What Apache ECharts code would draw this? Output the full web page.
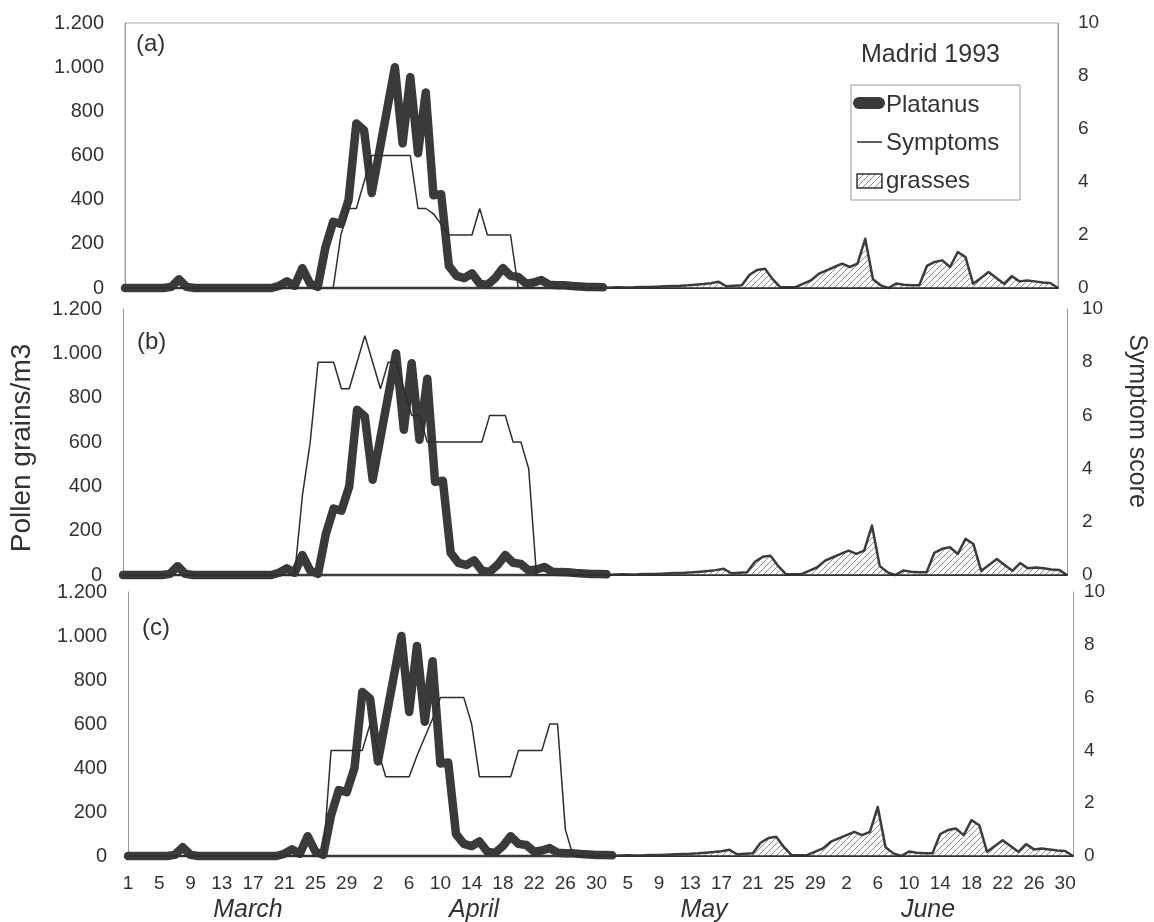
<!DOCTYPE html>
<html><head><meta charset="utf-8">
<script src="https://cdn.jsdelivr.net/npm/echarts@6/dist/echarts.min.js"></script>
<style>html,body{margin:0;padding:0;background:#fff}#chart{width:1154px;height:922px}</style>
</head><body><div id="chart"></div>
<script>
// ---------- data ----------
const monthLengths = [['Mar', 31], ['Apr', 30], ['May', 31], ['Jun', 30]];
const categories = [];
monthLengths.forEach(([m, n]) => { for (let d = 1; d <= n; d++) categories.push(m + ' ' + d); });

const tickLabels = ['1','5','9','13','17','21','25','29','2','6','10','14','18','22','26','30',
  '5','9','13','17','21','25','29','2','6','10','14','18','22','26','30'];
const monthNames = ['March', 'April', 'May', 'June'];

// Platanus pollen (grains/m3), Mar 1 onward
const platanus = [
  0,0,0,0,0,0,5,40,5,0,
  0,0,0,0,0,0,0,0,0,0,
  10,30,10,90,20,5,185,300,290,400,
  745,715,430,620,810,1000,655,955,610,885,
  420,425,100,55,45,66,20,14,45,90,
  55,50,20,25,36,15,13,12,9,7,
  5,4,3
];
// Grasses pollen (grains/m3)
const grasses = [
  0,0,0,0,0,0,0,0,0,0,
  0,0,0,0,0,0,0,0,0,0,
  0,0,0,0,0,0,0,0,0,0,
  0,0,0,0,0,0,0,0,0,0,
  0,0,0,0,0,0,0,0,0,0,
  0,0,0,0,0,0,0,0,0,0,
  0,0,0,2,3,2,3,5,4,6,
  8,9,10,12,15,18,22,28,8,10,
  12,60,82,87,40,3,3,5,20,35,
  65,80,95,110,95,110,223,40,12,0,
  20,15,12,12,100,118,125,95,163,140,
  19,45,72,45,19,54,30,34,30,25,
  23,0
];
// Symptom scores, panels (a), (b), (c)
const symptomsA = [
  0,0,0,0,0,0,0,0,0,0, 0,0,0,0,0,0,0,0,0,0,
  0,0,0,0,0,0,0,0,2,3, 3,4,5,5,5,5,5,5,3,3,
  2.8,2.4,2,2,2,2,3,2,2,2, 2,0,0,0,0,0,0,0,0,0
];
const symptomsB = [
  0,0,0,0,0,0,0,0,0,0, 0,0,0,0,0,0,0,0,0,0,
  0,0,0,3,5,8,8,8,7,7, 8,9,8,7,8,8,7,6,6,5,
  5,5,5,5,5,5,5,6,6,6, 5,5,4,0,0,0,0,0,0,0
];
const symptomsC = [
  0,0,0,0,0,0,0,0,0,0, 0,0,0,0,0,0,0,0,0,0,
  0,0,0,0,0,0,4,4,4,4, 4,5,4,3,3,3,3,3.8,4.5,5.2,
  6,6,6,6,5,3,3,3,3,3, 4,4,4,4,5,5,1,0,0,0
];
const panelLabels = ['(a)', '(b)', '(c)'];
const seriesNames = ['Platanus', 'Symptoms', 'grasses'];

function padTo(arr, n, fill) { const a = arr.slice(); while (a.length < n) a.push(fill); return a; }
const N = categories.length;
const platanusData = padTo(platanus, N, null);
const grassesData = padTo(grasses, N, 0);
const symptoms = [symptomsA, symptomsB, symptomsC].map(a => padTo(a, N, 0));

// ---------- styling ----------
const FONT = "'Liberation Sans', Arial, sans-serif";
const TXT = '#333';
function hatchCanvas() {
  const c = document.createElement('canvas');
  c.width = 6; c.height = 6;
  const g = c.getContext('2d');
  g.fillStyle = '#fff'; g.fillRect(0, 0, 6, 6);
  g.strokeStyle = '#8c8c8c'; g.lineWidth = 1;
  g.beginPath();
  g.moveTo(0, 6); g.lineTo(6, 0);
  g.moveTo(-1, 1); g.lineTo(1, -1);
  g.moveTo(5, 7); g.lineTo(7, 5);
  g.stroke();
  return c;
}
const hatch = { image: hatchCanvas(), repeat: 'repeat' };

const panels = [
  { left: 125, right: 1154 - 1058, top: 23, height: 265, border: true },
  { left: 123, right: 1154 - 1067, top: 309, height: 266, border: false },
  { left: 128, right: 1154 - 1073, top: 592, height: 264, border: false }
];
const rightMargins = [20, 15, 11];

const grids = [], xAxes = [], yAxes = [], series = [];
panels.forEach((p, k) => {
  grids.push({ left: p.left, right: p.right, top: p.top, height: p.height,
    show: p.border, borderColor: '#aaa', borderWidth: 1, backgroundColor: 'transparent' });
  xAxes.push({
    type: 'category', gridIndex: k, data: categories, boundaryGap: false,
    axisLine: { onZero: false, lineStyle: { color: '#3a3a3a', width: 2 } },
    axisTick: { show: false },
    axisLabel: k === 2 ? {
      show: true, interval: 3, margin: 18, fontSize: 19, color: TXT, fontFamily: FONT,
      formatter: (v, i) => tickLabels[i / 4] || ''
    } : { show: false },
    splitLine: { show: false }
  });
  yAxes.push({
    type: 'value', gridIndex: k, min: 0, max: 1200, interval: 200, position: 'left',
    axisLine: { show: true, lineStyle: { color: '#999', width: 1 } },
    axisTick: { show: false }, splitLine: { show: false },
    axisLabel: { fontSize: 20, color: TXT, fontFamily: FONT, margin: 21,
      formatter: v => String(v).replace(/\B(?=(\d{3})+(?!\d))/g, '.') }
  });
  yAxes.push({
    type: 'value', gridIndex: k, min: 0, max: 10, interval: 2, position: 'right',
    axisLine: { show: true, lineStyle: { color: '#999', width: 1 } },
    axisTick: { show: false }, splitLine: { show: false },
    axisLabel: { fontSize: 19, color: TXT, fontFamily: FONT, margin: rightMargins[k] }
  });
  series.push({
    name: seriesNames[2], type: 'line', xAxisIndex: k, yAxisIndex: 2 * k, data: grassesData,
    symbol: 'none', z: 2, clip: false,
    lineStyle: { color: '#3c3c3c', width: 2.5, join: 'round' },
    areaStyle: { color: hatch, opacity: 1 }
  });
  series.push({
    name: seriesNames[0], type: 'line', xAxisIndex: k, yAxisIndex: 2 * k, data: platanusData,
    symbol: 'none', z: 3, clip: false,
    lineStyle: { color: '#3a3a3a', width: 8.5, cap: 'round', join: 'round' }
  });
  series.push({
    name: seriesNames[1], type: 'line', xAxisIndex: k, yAxisIndex: 2 * k + 1, data: symptoms[k],
    symbol: 'none', z: 4, clip: false,
    lineStyle: { color: '#2e2e2e', width: 1.5 }
  });
});

const txt = (text, x, y, size, extra) => Object.assign({
  type: 'text', x, y, z: 50,
  style: Object.assign({ text, fill: TXT, font: size + 'px ' + FONT, verticalAlign: 'middle' }, (extra && extra.style) || {})
}, extra && extra.rotation !== undefined ? { rotation: extra.rotation } : {});

const graphic = [
  txt(panelLabels[0], 136, 44, 24),
  txt(panelLabels[1], 137, 342, 24),
  txt(panelLabels[2], 142, 628, 24),
  txt('Madrid 1993', 861, 55, 25),
  { type: 'rect', z: 40, shape: { x: 851, y: 85, width: 169, height: 115 },
    style: { fill: '#fff', stroke: '#999', lineWidth: 1 } },
  { type: 'rect', z: 50, shape: { x: 853, y: 97, width: 32, height: 12, r: 6 },
    style: { fill: '#3a3a3a' } },
  { type: 'line', z: 50, shape: { x1: 857, y1: 142, x2: 882, y2: 142 },
    style: { stroke: '#2e2e2e', lineWidth: 1.5 } },
  { type: 'rect', z: 50, shape: { x: 857, y: 174, width: 25, height: 14 },
    style: { fill: hatch, stroke: '#333', lineWidth: 1.5 } },
  txt(seriesNames[0], 886, 105, 24),
  txt(seriesNames[1], 886, 143, 24),
  txt(seriesNames[2], 886, 181, 24),
  txt('Pollen grains/m3', 22, 448, 28, { rotation: Math.PI / 2, style: { align: 'center', font: '28px ' + FONT } }),
  txt('Symptom score', 1137, 421, 25, { rotation: -Math.PI / 2, style: { align: 'center' } }),
  txt(monthNames[0], 248, 910, 25, { style: { align: 'center', font: 'italic 25px ' + FONT } }),
  txt(monthNames[1], 474, 910, 25, { style: { align: 'center', font: 'italic 25px ' + FONT } }),
  txt(monthNames[2], 704, 910, 25, { style: { align: 'center', font: 'italic 25px ' + FONT } }),
  txt(monthNames[3], 928, 910, 25, { style: { align: 'center', font: 'italic 25px ' + FONT } })
];

const chart = echarts.init(document.getElementById('chart'), null, { renderer: 'canvas' });
chart.setOption({
  animation: false,
  backgroundColor: '#fff',
  textStyle: { fontFamily: FONT },
  grid: grids, xAxis: xAxes, yAxis: yAxes, series, graphic
});
</script></body></html>
